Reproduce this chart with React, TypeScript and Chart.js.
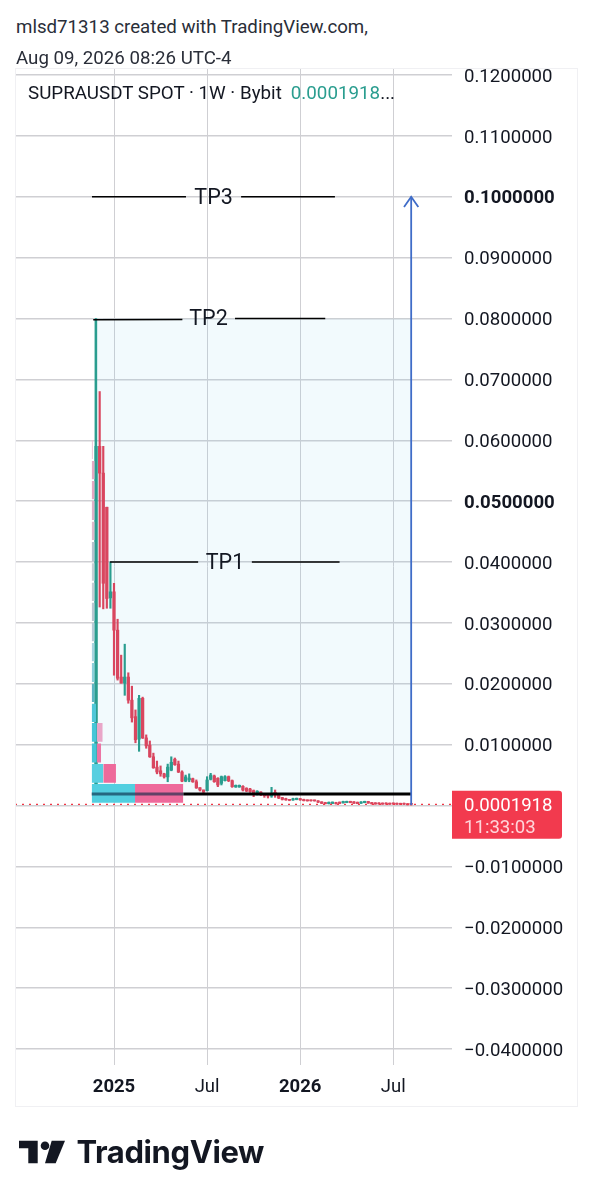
import React, { useEffect, useRef } from "react";
import { Chart, registerables } from "chart.js";

Chart.register(...registerables);

const xTicks = [0, 26, 52, 78];
const xLabels = ["2025", "Jul", "2026", "Jul"];
const xBold = [0, 52];
const yTicks = [0.12, 0.11, 0.1, 0.09, 0.08, 0.07, 0.06, 0.05, 0.04, 0.03, 0.02, 0.01, 0, -0.01, -0.02, -0.03, -0.04];
const yBold = [0.1, 0.05];

const weeks = [-5,-4,-3,-2,-1,0,1,2,3,4,5,6,7,8,9,10,11,12,13,14,15,16,17,18,19,20,21,22,23,24,25,26,27,28,29,30,31,32,33,34,35,36,37,38,39,40,41,42,43,44,45,46,47,48,49,50,51,52,53,54,55,56,57,58,59,60,61,62,63,64,65,66,67,68,69,70,71,72,73,74,75,76,77,78,79,80,81,82,83];
const opens = [0.002,0.059,0.0546,0.049,0.0341,0.0351,0.0288,0.0211,0.0201,0.0211,0.0173,0.0146,0.0109,0.0176,0.0111,0.0099,0.008,0.0063,0.0057,0.0052,0.0047,0.0058,0.0076,0.0068,0.0055,0.004,0.0042,0.0044,0.0039,0.00293,0.00255,0.00244,0.0043,0.00484,0.00446,0.00364,0.00408,0.00473,0.00408,0.00304,0.00304,0.00315,0.00282,0.00271,0.00244,0.002,0.00222,0.00194,0.00183,0.00156,0.00216,0.00172,0.00129,0.00112,0.00093,0.0009,0.00098,0.00112,0.00098,0.00088,0.00088,0.00087,0.00076,0.00059,0.00048,0.00029,0.00032,0.00048,0.00055,0.00043,0.00048,0.00068,0.00061,0.00053,0.00037,0.00048,0.00066,0.00048,0.00043,0.00042,0.00039,0.0004,0.00037,0.00039,0.00036,0.00034,0.00036,0.00028,0.00024];
const highs = [0.08,0.068,0.059,0.049,0.04,0.0365,0.0306,0.0247,0.0265,0.0218,0.0196,0.0157,0.0181,0.0178,0.0116,0.0106,0.0086,0.0073,0.0065,0.0053,0.0068,0.008,0.0078,0.0073,0.0057,0.005,0.0052,0.0045,0.0042,0.00293,0.00255,0.00473,0.00528,0.005,0.00457,0.00484,0.0049,0.00484,0.00419,0.00337,0.00337,0.00326,0.00293,0.00282,0.00255,0.00244,0.00227,0.002,0.00189,0.00298,0.00255,0.00183,0.00134,0.0012,0.00098,0.0012,0.00123,0.00118,0.00104,0.00093,0.00091,0.0009,0.0008,0.00063,0.00053,0.00058,0.00059,0.00053,0.00059,0.00071,0.00072,0.00071,0.00064,0.00058,0.00063,0.00071,0.00069,0.00052,0.00048,0.00046,0.00044,0.00045,0.00042,0.00043,0.00041,0.00039,0.0004,0.00032,0.00029];
const lows = [0.0015,0.0326,0.0323,0.0324,0.0324,0.0214,0.0206,0.0201,0.0181,0.0168,0.0137,0.0103,0.0089,0.011,0.0094,0.0079,0.0061,0.0052,0.0048,0.0045,0.0039,0.0057,0.0066,0.0054,0.0039,0.0039,0.0039,0.0038,0.0028,0.00238,0.0021,0.00238,0.00419,0.0038,0.00309,0.00337,0.00402,0.00391,0.00298,0.00298,0.00298,0.00238,0.00227,0.00216,0.00145,0.00172,0.00161,0.00134,0.00123,0.00134,0.00134,0.00112,0.0009,0.00085,0.00078,0.00085,0.00093,0.00085,0.00074,0.00071,0.00072,0.00071,0.00048,0.0003,0.00025,0.00025,0.00028,0.00023,0.00028,0.00039,0.00045,0.00044,0.00033,0.00028,0.00033,0.00044,0.00036,0.00023,0.0002,0.00022,0.00018,0.00021,0.00017,0.00019,0.00016,0.00014,0.00016,0.00008,0.00005];
const closes = [0.059,0.0546,0.0365,0.034,0.0351,0.0288,0.0209,0.0201,0.0211,0.0173,0.0144,0.0108,0.0176,0.0111,0.0098,0.008,0.0062,0.0055,0.0052,0.0047,0.0063,0.0071,0.0067,0.0055,0.004,0.0047,0.0045,0.0039,0.0029,0.00255,0.00222,0.00419,0.005,0.00391,0.00337,0.00473,0.00473,0.00408,0.00309,0.00331,0.00331,0.00255,0.00238,0.00227,0.00211,0.00233,0.00183,0.00161,0.00156,0.002,0.00172,0.00123,0.00101,0.00093,0.00085,0.00112,0.00118,0.00093,0.00079,0.00077,0.00077,0.00076,0.00054,0.00035,0.00029,0.00053,0.00056,0.00028,0.00032,0.00066,0.00068,0.00048,0.00036,0.0003,0.00059,0.00068,0.00039,0.00027,0.00024,0.00025,0.00022,0.00024,0.00021,0.00025,0.00021,0.00019,0.00021,0.00012,0.0001918];

const lastPrice = 0.0001918;
const pocLevel = 0.00189;
const boxLeft = -5.2;
const boxRight = 83;
const boxTop = 0.08;

const vpLeft = -6.23;
const vpMid = [5.87, -3.0, -4.83, -4.83];
const vpRight = [19.36, 0.55, -3.6, -3.15];
const vpTop = [0.00353, 0.00681, 0.0102, 0.01355];
const vpBottom = [0.00046, 0.00374, 0.00708, 0.01048];
const vpCyan = ["#52cfe0", "#58cfe0", "#46c6d8", "#46c6d8"];
const vpPink = ["#ee6a9b", "#ee6a9b", "#ec74a4", "#e9a6c8"];

const stubTop = [0.06, 0.0566, 0.0533, 0.05, 0.0466, 0.0433, 0.0398, 0.0366, 0.0333, 0.03, 0.0267, 0.0234, 0.02, 0.0167];
const stubBottom = [0.0569, 0.0536, 0.0503, 0.0469, 0.0436, 0.0401, 0.0369, 0.0336, 0.0303, 0.027, 0.0237, 0.0203, 0.017, 0.0137];
const stubRight = [-5.9, -5.4, -5.4, -5.4, -5.4, -5.4, -5.4, -5.4, -5.4, -5.4, -5.4, -5.4, -5.4, -5.0];
const stubColors = ["#e7bdd0", "#e5a9c3", "#e6a7c2", "#dfb0c8", "#dfb7cb", "#b6c2cf", "#c6cfd6", "#c4cdd5", "#b9c7d2", "#b8ccd8", "#a8d4e0", "#8ccfdb", "#5fb6c4", "#4fc7d8"];

const tpLabels = ["TP3", "TP2", "TP1"];
const tpLabelX = [27.8, 26.4, 31.0];
const tpLabelY = [0.1, 0.08, 0.04];
const tpLeftX = [[-6.15, 20.1], [-5.8, 19.1], [-1.1, 23.5]];
const tpRightX = [[35.5, 61.7], [33.8, 59], [38.5, 63]];
const tpLeftY = [[0.1, 0.1], [0.0798, 0.07985], [0.04, 0.04]];
const tpRightY = [[0.1, 0.1], [0.08, 0.08], [0.04, 0.04]];

const arrowX = [83, 83];
const arrowY = [0.0001, 0.1];
const arrowHeadX = [81, 83, 85];
const arrowHeadY = [0.0983, 0.1, 0.0983];

const upColor = "#2a9d8f";
const downColor = "#d9465f";
const font = "Roboto";
const gridColor = "#cfcfd3";
const arrowColor = "#3f6cc8";

function rect(x0: number, x1: number, top: number, bottom: number, color: string, order: number) {
  return {
    type: "line",
    data: [{ x: x0, y: top }, { x: x1, y: top }],
    borderWidth: 0,
    pointRadius: 0,
    backgroundColor: color,
    fill: { value: bottom },
    order,
  };
}

function line(xs: number[], ys: number[], color: string, width: number, order: number, dash: number[] = []) {
  return {
    type: "line",
    data: xs.map((x, i) => ({ x, y: ys[i] })),
    borderColor: color,
    borderWidth: width,
    borderDash: dash,
    pointRadius: 0,
    tension: 0,
    fill: false,
    order,
  };
}

function bars(up: boolean, low: number[], high: number[], thickness: number, order: number) {
  const data: any[] = [];
  weeks.forEach((w, i) => {
    if (closes[i] >= opens[i] === up) data.push({ x: w, y: [low[i], high[i]] });
  });
  return {
    type: "bar",
    data,
    backgroundColor: up ? upColor : downColor,
    barThickness: thickness,
    minBarLength: 1,
    borderSkipped: false,
    grouped: false,
    order,
  };
}

const overlay = {
  id: "overlay",
  afterDatasetsDraw(chart: any) {
    const { ctx, scales } = chart;
    ctx.save();
    ctx.fillStyle = "#131722";
    ctx.font = `21.5px ${font}`;
    ctx.textAlign = "center";
    ctx.textBaseline = "middle";
    tpLabels.forEach((t, i) => {
      ctx.fillText(t, scales.x.getPixelForValue(tpLabelX[i]), scales.y.getPixelForValue(tpLabelY[i]) + 1.5);
    });
    const py = scales.y.getPixelForValue(lastPrice);
    const right = scales.x.right;
    ctx.fillStyle = "#f23a4e";
    ctx.beginPath();
    ctx.roundRect(right, py - 13.5, 110, 48, [0, 3, 3, 0]);
    ctx.fill();
    ctx.textAlign = "left";
    ctx.fillStyle = "#ffffff";
    ctx.font = `18.6px ${font}`;
    ctx.fillText(lastPrice.toFixed(7), right + 12, py + 2);
    ctx.fillStyle = "#ffd5da";
    ctx.fillText("11:33:03", right + 12, py + 24);
    ctx.restore();
  },
};

export default function App() {
  const ref = useRef<HTMLCanvasElement>(null);
  useEffect(() => {
    const datasets: any[] = [
      rect(boxLeft, boxRight, boxTop, pocLevel, "rgba(110,200,232,0.09)", 30),
      bars(true, lows, highs, 1.5, 20),
      bars(false, lows, highs, 1.5, 20),
      bars(true, opens, closes, 2.6, 19),
      bars(false, opens, closes, 2.6, 19),
      line([boxLeft, boxLeft], [pocLevel, boxTop], upColor, 1.6, 21),
      line([-27.65, 94.4], [lastPrice, lastPrice], "#f23645", 1.3, 18, [2, 5]),
      line(arrowX, arrowY, arrowColor, 1.8, 6),
      line(arrowHeadX, arrowHeadY, arrowColor, 1.8, 6),
    ];
    stubTop.forEach((t, i) => datasets.push(rect(vpLeft, stubRight[i], t, stubBottom[i], stubColors[i], 12)));
    vpTop.forEach((t, i) => {
      datasets.push(rect(vpLeft, vpMid[i], t, vpBottom[i], vpCyan[i], 11));
      datasets.push(rect(vpMid[i], vpRight[i], t, vpBottom[i], vpPink[i], 11));
    });
    datasets.push(line([vpLeft, vpRight[0]], [pocLevel, pocLevel], "rgba(10,40,70,0.62)", 3, 8));
    datasets.push(line([vpRight[0], boxRight], [pocLevel, pocLevel], "#000000", 3.2, 8));
    tpLabels.forEach((_, i) => {
      datasets.push(line(tpLeftX[i], tpLeftY[i], "#000000", 1.5, 5));
      datasets.push(line(tpRightX[i], tpRightY[i], "#000000", 1.5, 5));
    });
    const chart = new Chart(ref.current as HTMLCanvasElement, {
      type: "bar",
      data: { datasets },
      plugins: [overlay],
      options: {
        animation: false,
        responsive: false,
        devicePixelRatio: 1,
        layout: { padding: { left: 15, top: 68, right: 0, bottom: 0 } },
        plugins: { legend: { display: false }, tooltip: { enabled: false }, title: { display: false } },
        scales: {
          x: {
            type: "linear",
            min: -27.65,
            max: 94.4,
            offset: false,
            afterBuildTicks(s: any) {
              s.ticks = xTicks.map((value) => ({ value }));
            },
            afterFit(s: any) {
              s.height = 135;
            },
            grid: { color: gridColor, lineWidth: 1, offset: false, drawTicks: false },
            border: { display: false },
            ticks: {
              autoSkip: false,
              maxRotation: 0,
              padding: 11,
              color: "#131722",
              font: (c: any) => ({ family: font, size: 18.5, weight: xBold.includes(c.tick?.value) ? "bold" : "normal" }),
              callback: (v: any) => xLabels[xTicks.indexOf(v)] ?? "",
            },
          },
          y: {
            type: "linear",
            position: "right",
            min: -0.04263,
            max: 0.12115,
            afterBuildTicks(s: any) {
              s.ticks = yTicks.map((value) => ({ value }));
            },
            afterFit(s: any) {
              s.width = 141;
            },
            grid: { color: gridColor, lineWidth: 1.4, drawTicks: false },
            border: { display: false },
            ticks: {
              autoSkip: false,
              padding: 12,
              labelOffset: 2,
              color: "#131722",
              align: "center",
              font: (c: any) => ({ family: font, size: 18.6, weight: yBold.includes(c.tick?.value) ? "bold" : "normal" }),
              callback: (v: any) => (v < 0 ? "\u2212" + Math.abs(v).toFixed(7) : Number(v).toFixed(7)),
            },
          },
        },
      } as any,
    } as any);
    return () => chart.destroy();
  }, []);

  const abs: React.CSSProperties = { position: "absolute", whiteSpace: "nowrap", fontFamily: font };
  return (
    <div style={{ position: "absolute", left: 0, top: 0, width: 593, height: 1200, background: "#fff", overflow: "hidden" }}>
      <canvas ref={ref} width={593} height={1200} style={{ position: "absolute", left: 0, top: 0 }} />
      <div style={{ ...abs, left: 0, top: 0, width: 593, height: 68, background: "#fff" }} />
      <div style={{ ...abs, left: 15, top: 68, width: 561, height: 1037, border: "1px solid #f0f0f3", boxSizing: "content-box" }} />
      <div style={{ ...abs, left: 16, top: 15, fontSize: 18.7, lineHeight: "24px", color: "#2a2e39" }}>mlsd71313 created with TradingView.com,</div>
      <div style={{ ...abs, left: 16, top: 46, fontSize: 18.7, lineHeight: "24px", color: "#2a2e39" }}>Aug 09, 2026 08:26 UTC-4</div>
      <div style={{ ...abs, left: 28, top: 81.5, fontSize: 18.8, lineHeight: "22px", color: "#131722" }}>
        SUPRAUSDT SPOT · 1W · Bybit<span style={{ color: "#2a9d8f", marginLeft: 9 }}>0.0001918</span>...
      </div>
      <svg style={{ position: "absolute", left: 0, top: 1130 }} width={80} height={50}>
        <path d="M19 10.7H37.7V33.3H28.3V18.3H19Z" fill="#131722" />
        <circle cx={45} cy={15.7} r={4.3} fill="#131722" />
        <path d="M51.7 10.7H65L55.7 33.3H45Z" fill="#131722" />
      </svg>
      <div style={{ ...abs, left: 76.5, top: 1130, fontFamily: "Inter", fontWeight: 700, fontSize: 31, lineHeight: "44px", letterSpacing: -0.4, color: "#131722" }}>TradingView</div>
    </div>
  );
}
